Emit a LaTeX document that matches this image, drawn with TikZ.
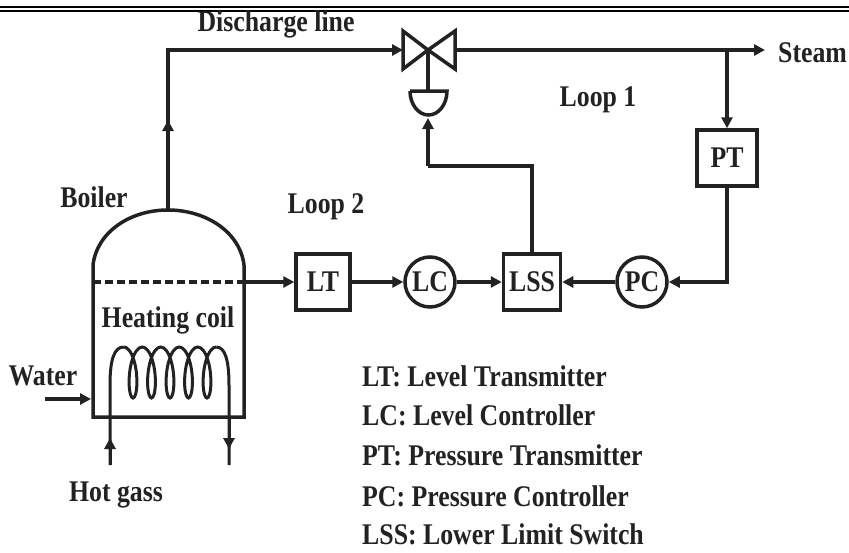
\documentclass[tikz,border=0pt]{standalone}
\usepackage{fontspec}
\setmainfont[FakeStretch=0.86,BoldFont={Liberation Serif Bold}]{Liberation Serif}
\usepackage{tikz}
\usetikzlibrary{arrows.meta}

\definecolor{ink}{HTML}{222222}

\tikzset{
  pipe/.style={draw=ink,line width=3.5pt},
  flow/.style={pipe,-{Triangle[length=11pt,width=11pt]}},
  boxed/.style={rectangle,draw=ink,line width=3.5pt,minimum width=54pt,minimum height=56pt,inner sep=0pt},
  round/.style={circle,draw=ink,line width=3.5pt,minimum size=50pt,inner sep=0pt},
  label/.style={text=ink,font=\fontsize{30}{32}\selectfont\bfseries,inner sep=0pt},
  legend/.style={label,anchor=west}
}

\begin{document}
\begin{tikzpicture}[x=1pt,y=-1pt]
    \useasboundingbox (0,0) rectangle (849,552);
    \clip (0,0) rectangle (849,552);

    % Top rules
    \fill[black] (0,5.5) rectangle (849,8);
    \fill[black] (0,9.5) rectangle (849,11.5);

    % Boiler
    \coordinate (domeleft) at (93,265);
    \coordinate (domeright) at (244,265);
    \coordinate (domeapex) at (168,210);
    \draw[pipe] (domeright) -- (244,417) -- (93,417) -- (domeleft)
      .. controls (97,232) and (130,210) .. (domeapex)
      .. controls (206,210) and (240,232) .. (domeright);
    \draw[draw=ink,line width=3.5pt,dash pattern=on 8pt off 4pt] (93,282) -- (244,282);
    \node[label] (coillabel) at (168,320) {Heating coil};

    % Coil
    \coordinate (coilin) at (110,465);
    \coordinate (coilout) at (229,465);
    \draw[pipe,line width=3pt] (coilin) -- (110,385) .. controls (110,360) and (114,347) .. (123.75,347);
    \draw[pipe,line width=3pt] plot[smooth,samples=121,domain=0:1800,variable=\t]
      ({123.75+18.5*(\t/360)+8*sin(\t)},{372.5-25.5*cos(\t)});
    \draw[pipe,line width=3pt] (216.25,347) .. controls (225,347) and (229,360) .. (229,385) -- (coilout);
    \draw[flow,line width=3pt] (coilin) -- (110,438);
    \draw[flow,line width=3pt] (229,417) -- (229,449);

    % Valve
    \coordinate (valve) at (428,50);
    \coordinate (valveleft) at (403,50);
    \coordinate (valveright) at (455,50);
    \coordinate (actuator) at (428,91);
    \draw[pipe,line join=miter] (valve) -- (403,31) -- (403,69) -- cycle;
    \draw[pipe,line join=miter] (valve) -- (455,31) -- (455,69) -- cycle;
    \draw[pipe] (valve) -- (actuator);
    \draw[pipe] (410,91) -- (447,91) arc[start angle=0,end angle=180,x radius=18.5,y radius=24];

    % Instruments
    \node[boxed,label] (LT) at (323,282) {LT};
    \node[round,label] (LC) at (430,282) {LC};
    \node[boxed,label,minimum width=57pt] (LSS) at (532,282) {LSS};
    \node[round,label] (PC) at (642,282) {PC};
    \node[boxed,label,minimum width=60pt] (PT) at (727,158) {PT};

    % Connectors
    \coordinate (steamend) at (765,50);
    \coordinate (tap) at (727,50);
    \draw[flow] (domeapex) -- (168,120);
    \draw[flow] (168,125) |- (valveleft);
    \draw[flow] (valveright) -- (steamend);
    \draw[flow] (tap) -- (PT.north);
    \draw[flow] (PT.south) |- (PC.east);
    \draw[flow] (PC.west) -- (LSS.east);
    \draw[flow] (LC.east) -- (LSS.west);
    \draw[flow] (LT.east) -- (LC.west);
    \draw[flow] (244,282) -- (LT.west);
    \draw[pipe] (LSS.north) |- (428,166);
    \draw[flow] (428,166) -- (428,118);
    \coordinate (waterin) at (45,399);
    \draw[flow] (waterin) -- (91,399);

    % Labels
    \node[label] (discharge) at (276,24) {Discharge line};
    \node[label,anchor=west] (steam) at (778,53) {Steam};
    \node[label] (loopone) at (598,100) {Loop 1};
    \node[label] (looptwo) at (326,207) {Loop 2};
    \node[label] (boiler) at (94,197) {Boiler};
    \node[label] (water) at (43,376) {Water};
    \node[label] (hotgass) at (116,495) {Hot gass};

    % Legend
    \node[legend] (legendlt) at (362,376) {LT: Level Transmitter};
    \node[legend] (legendlc) at (362,415) {LC: Level Controller};
    \node[legend] (legendpt) at (362,455) {PT: Pressure Transmitter};
    \node[legend] (legendpc) at (362,496) {PC: Pressure Controller};
    \node[legend] (legendlss) at (362,534) {LSS: Lower Limit Switch};
  \end{tikzpicture}
\end{document}
